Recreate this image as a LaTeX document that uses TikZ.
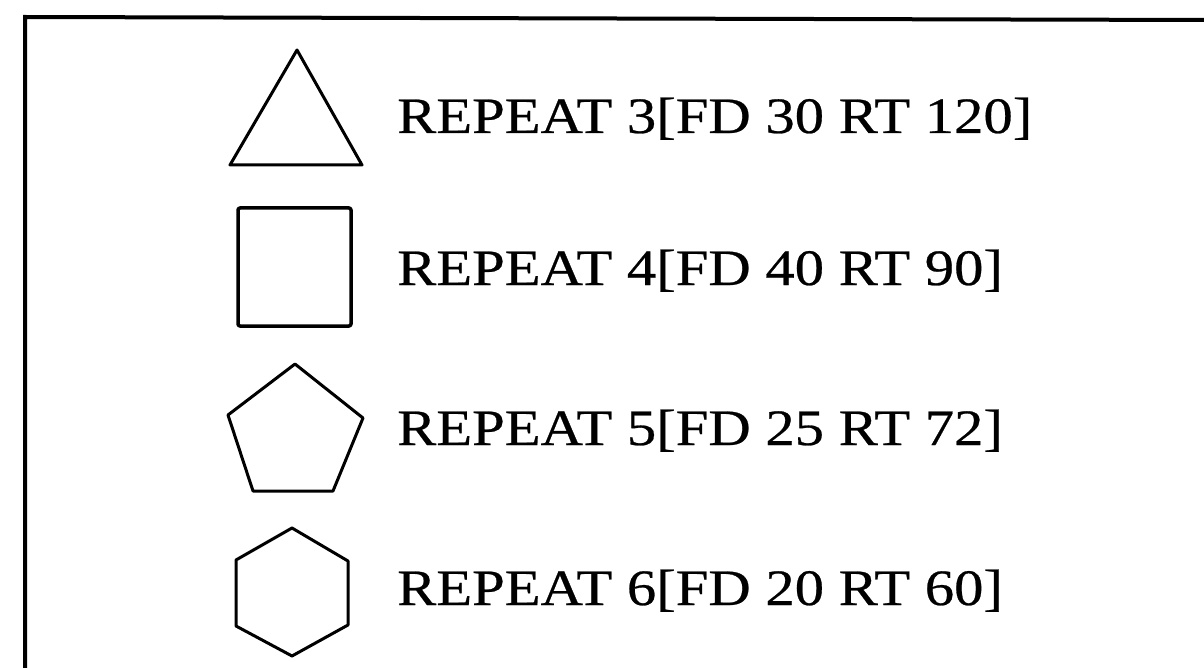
\documentclass[tikz,border=0pt]{standalone}
\usepackage{fontspec}
\setmainfont{Liberation Serif}
\newfontfamily\cmdfont[FakeStretch=1.15, FakeBold=0.5]{Liberation Serif}
\begin{document}
\begin{tikzpicture}[x=1pt,y=-1pt,
  frame/.style={line width=4pt},
  polyline/.style={line width=3pt, line join=round},
  cmd/.style={anchor=base west, inner sep=0pt, font=\cmdfont\fontsize{51}{60}\selectfont}]
\useasboundingbox (0,0) rectangle (1204,668);
% frame
\draw[frame] (25,670) -- (25,17) -- (1206,20);
% triangle
\draw[polyline] (297,50) -- (362,165) -- (230,165) -- cycle;
% square
\draw[polyline, line width=3.5pt, rounded corners=2pt] (238,208) rectangle (351,326);
% pentagon
\draw[polyline] (295,364) -- (363,418) -- (333,491) -- (253,491) -- (228,415) -- cycle;
% hexagon
\draw[polyline] (292,528) -- (348,561) -- (348,625) -- (292,656) -- (236,626) -- (236,560) -- cycle;
% texts
\node[cmd] (t1) at (397,133) {REPEAT 3[FD 30 RT 120]};
\node[cmd] (t2) at (397,285) {REPEAT 4[FD 40 RT 90]};
\node[cmd] (t3) at (397,445) {REPEAT 5[FD 25 RT 72]};
\node[cmd] (t4) at (397,605) {REPEAT 6[FD 20 RT 60]};
\end{tikzpicture}
\end{document}
